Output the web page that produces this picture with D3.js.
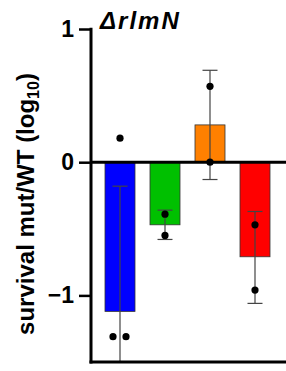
<!DOCTYPE html>
<html><head><meta charset="utf-8">
<script src="https://cdn.jsdelivr.net/npm/d3@7"></script>
<style>body{margin:0;background:#fff}svg{display:block}</style>
</head><body>
<script>
const categories = ["s1","s2","s3","s4"];
const colors = ["#0000ff","#00c000","#ff8000","#ff0000"];
const means = [-1.12, -0.47, 0.28, -0.71];
const errUpper = [-0.18, -0.36, 0.69, -0.37];
const errLower = [-2.06, -0.58, -0.13, -1.06];
const points = [[0.18,-1.31,-1.31],[-0.39,-0.55],[0.57,0.0],[-0.47,-0.96]];
const pointOffsets = [[0,-7,6],[0,0],[0,0],[0,0]];
const yTicks = [1,0,-1];
const title = "ΔrlmN";
const yLabel = "survival mut/WT (log";

const W=286,H=371;
const svg=d3.select("body").append("svg").attr("width",W).attr("height",H);
const y=d3.scaleLinear().domain([-1.5,1]).range([362,29]);
const x=d3.scaleBand().domain(categories).range([97.5,277.5]).paddingInner(1/3).paddingOuter(1/6);
const font="'Liberation Sans', Arial, sans-serif";

svg.append("clipPath").attr("id","clip").append("rect").attr("x",91).attr("y",0).attr("width",W).attr("height",y(-1.5));
const g=svg.append("g").attr("clip-path","url(#clip)");

// bars
g.selectAll("rect.bar").data(categories).enter().append("rect")
 .attr("x",d=>x(d)).attr("width",x.bandwidth())
 .attr("y",(d,i)=>Math.min(y(0),y(means[i])))
 .attr("height",(d,i)=>Math.abs(y(means[i])-y(0)))
 .attr("fill",(d,i)=>colors[i]).attr("stroke","#333").attr("stroke-width",0.8);

// error bars
categories.forEach((c,i)=>{
  const cx=x(c)+x.bandwidth()/2;
  g.append("line").attr("x1",cx).attr("x2",cx).attr("y1",y(errUpper[i])).attr("y2",y(errLower[i])).attr("stroke","#444").attr("stroke-width",1.2);
  [errUpper[i],errLower[i]].forEach(v=>{
    g.append("line").attr("x1",cx-7.5).attr("x2",cx+7.5).attr("y1",y(v)).attr("y2",y(v)).attr("stroke","#444").attr("stroke-width",1.2);
  });
  points[i].forEach((v,j)=>{
    g.append("circle").attr("cx",cx+pointOffsets[i][j]).attr("cy",y(v)).attr("r",3.6).attr("fill","#000");
  });
});

// zero line
svg.append("line").attr("x1",91).attr("x2",W).attr("y1",y(0)).attr("y2",y(0)).attr("stroke","#000").attr("stroke-width",3);

// y axis
const ax=svg.append("g").attr("transform","translate(91,0)")
 .call(d3.axisLeft(y).tickValues(yTicks).tickSize(12).tickPadding(5).tickFormat(d3.format("d")));
ax.select(".domain").remove();
ax.selectAll(".tick line").attr("stroke","#000").attr("stroke-width",2.5);
ax.selectAll(".tick text").attr("font-family",font).attr("font-weight","bold").attr("font-size",23).attr("fill","#000");
svg.append("line").attr("x1",91).attr("x2",91).attr("y1",y(1)-1.2).attr("y2",y(-1.5)+1.5).attr("stroke","#000").attr("stroke-width",3);
// x axis
svg.append("line").attr("x1",89.5).attr("x2",W).attr("y1",y(-1.5)).attr("y2",y(-1.5)).attr("stroke","#000").attr("stroke-width",3);

// title
svg.append("text").attr("x",100).attr("y",29).attr("font-family",font).attr("font-weight","bold").attr("font-style","italic").attr("font-size",24)
 .attr("letter-spacing",2).text(title);

// y label
const yl=svg.append("text").attr("transform",`translate(34,${204}) rotate(-90)`).attr("text-anchor","middle")
 .attr("font-family",font).attr("font-weight","bold").attr("font-size",24);
yl.append("tspan").text(yLabel);
yl.append("tspan").attr("font-size",16).attr("dy",5).text("10");
yl.append("tspan").attr("dy",-5).text(")");
</script>
</body></html>
